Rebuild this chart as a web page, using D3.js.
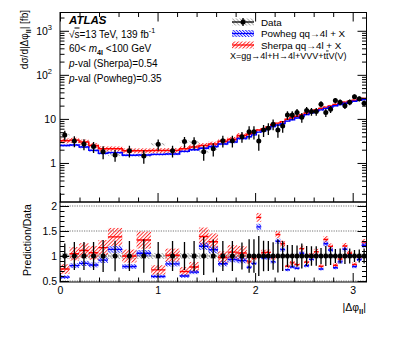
<!DOCTYPE html>
<html><head><meta charset="utf-8">
<script src="https://cdn.jsdelivr.net/npm/d3@7"></script>
<style>body{margin:0;background:#fff}svg{display:block}text{font-family:"Liberation Sans",Arial,sans-serif;fill:#000}</style>
</head><body><svg id="c" width="399" height="337"></svg>
<script>
// ---------------- data ----------------
const phiBinEdges = [0, 0.098, 0.196, 0.295, 0.393, 0.491, 0.638, 0.785, 0.933, 1.080, 1.227, 1.325, 1.424, 1.522, 1.620, 1.718, 1.816, 1.914,
  1.963, 2.013, 2.062, 2.111, 2.160, 2.209, 2.258, 2.307, 2.356, 2.405, 2.454, 2.503, 2.553, 2.602, 2.651, 2.700, 2.749, 2.798, 2.847, 2.896, 2.945, 2.994, 3.043, 3.092, 3.142];
const dataXsec = [4.33, 3.16, 2.7, 2.35, 1.8, 1.52, 1.9, 1.44, 2.66, 1.9,
  3.05, 2.95, 1.8, 2.1, 3.2, 3.2, 3.96, 5.1, 5.1, 3.16,
  5.6, 6.15, 7.6, 5.6, 6.9, 12.3, 12.3, 13.9, 10.9, 15.5,
  14.7, 14.7, 21.6, 13.9, 16.6, 26, 24, 20, 24, 32, 28.5, 22.7];
const dataErr = [1.08, 0.88, 0.76, 0.66, 0.58, 0.46, 0.57, 0.48, 0.74, 0.57,
  0.85, 0.89, 0.68, 0.69, 0.96, 0.96, 1.07, 1.7, 1.7, 1.26,
  1.7, 1.85, 2.1, 1.85, 2.07, 2.7, 2.7, 2.9, 2.7, 3.1,
  2.9, 2.9, 3.5, 2.8, 3.0, 3.6, 3.6, 3.2, 3.6, 3.8, 3.7, 3.4];
const dataSysRel = [0.06,0.06,0.06,0.06,0.06,0.06,0.06,0.06,0.06,0.06,0.06,0.06,0.06,0.06,0.06,0.06,0.06,
  0.05,0.05,0.05,0.05,0.05,0.05,0.05,0.05,0.05,0.05,0.05,0.05,0.05,0.05,0.05,0.05,0.05,0.05,0.05,0.05,0.05,0.05,0.05,0.05,0.05];
const sherpaXsec = [3.2, 3.3, 3.0, 2.5, 2.1, 2.1, 1.9, 1.9, 1.92, 1.93,
  2.1, 2.3, 2.5, 2.7, 3.1, 3.45, 4.2, 4.5, 4.9, 5.6,
  6.0, 6.6, 7.4, 8.0, 8.6, 9.8, 10.6, 11.5, 12.5, 13.6,
  14.8, 16.0, 17.2, 18.5, 19.8, 21.2, 22.5, 24.0, 25.3, 26.6, 28.0, 29.0];
const sherpaRelUnc = [0.13,0.13,0.13,0.13,0.13,0.13,0.13,0.13,0.13,0.13,0.13,0.13,0.13,0.13,0.13,0.13,0.13,
  0.05,0.05,0.05,0.05,0.05,0.05,0.05,0.05,0.05,0.05,0.05,0.05,0.05,0.05,0.05,0.05,0.05,0.05,0.05,0.05,0.05,0.05,0.05,0.05,0.05];
const powhegXsec = [2.5, 2.55, 2.3, 1.93, 1.65, 1.72, 1.5, 1.52, 1.57, 1.6,
  1.83, 2.0, 2.15, 2.36, 2.7, 2.97, 3.6, 3.95, 4.35, 5.0,
  5.4, 5.95, 6.7, 7.25, 7.8, 8.9, 9.6, 10.5, 11.5, 12.5,
  13.7, 14.8, 16.0, 17.3, 18.6, 19.9, 21.2, 22.7, 24.0, 25.2, 26.6, 27.6];
const powhegRelUnc = [0.06,0.06,0.06,0.06,0.06,0.06,0.06,0.06,0.06,0.06,0.06,0.06,0.06,0.06,0.06,0.06,0.06,
  0.04,0.04,0.04,0.04,0.04,0.04,0.04,0.04,0.04,0.04,0.04,0.04,0.04,0.04,0.04,0.04,0.04,0.04,0.04,0.04,0.04,0.04,0.04,0.04,0.04];
const xTickValues = [0, 1, 2, 3];
const xTickLabels = ["0", "1", "2", "3"];
const mainTickValues = [1, 10, 100, 1000];
const mainTickLabels = [["1",""], ["10",""], ["10","2"], ["10","3"]];
const ratioTickValues = [0.5, 1, 1.5, 2];
const ratioTickLabels = ["0.5", "1", "1.5", "2"];

// ---------------- layout ----------------
const X0 = 60, X1 = 366.5, MT = 12.5, MB = 202, RB = 282;
const svg = d3.select("#c");
const x = d3.scaleLinear().domain([0, Math.PI]).range([X0, X1]);
const y = d3.scaleLog().domain([0.13, 2600]).range([MB, MT]);
const yr = d3.scaleLinear().domain([0.48, 2.08]).range([RB, MB]);
const FS = 10.5;

const defs = svg.append("defs");
function hatch(id, color, angle, sp, w) {
  const p = defs.append("pattern").attr("id", id).attr("patternUnits", "userSpaceOnUse")
    .attr("width", sp).attr("height", sp).attr("patternTransform", `rotate(${angle})`);
  p.append("line").attr("x1", 0.5).attr("y1", 0).attr("x2", 0.5).attr("y2", sp)
    .attr("stroke", color).attr("stroke-width", w);
}
hatch("hr", "#ff2020", 45, 2.6, 0.9);
hatch("hb", "#1a1aff", -45, 2.2, 0.9);
hatch("hg", "#9a9a9a", -45, 2.6, 0.8);
defs.append("clipPath").attr("id", "cm").append("rect").attr("x", X0).attr("y", MT).attr("width", X1 - X0).attr("height", MB - MT);
defs.append("clipPath").attr("id", "cr").append("rect").attr("x", X0).attr("y", MB).attr("width", X1 - X0).attr("height", RB - MB);

const bins = dataXsec.map((d, i) => ({
  i, lo: phiBinEdges[i], hi: phiBinEdges[i + 1], c: (phiBinEdges[i] + phiBinEdges[i + 1]) / 2,
  d, e: dataErr[i], sys: dataSysRel[i], s: sherpaXsec[i], su: sherpaRelUnc[i], p: powhegXsec[i], pu: powhegRelUnc[i]
}));

// ---------------- main panel ----------------
const gm = svg.append("g").attr("clip-path", "url(#cm)");
gm.selectAll("rect.gs").data(bins).join("rect").attr("class", "gs")
  .attr("x", b => x(b.lo)).attr("width", b => x(b.hi) - x(b.lo))
  .attr("y", b => y(b.d * (1 + b.sys))).attr("height", b => y(b.d * (1 - b.sys)) - y(b.d * (1 + b.sys)))
  .attr("fill", "url(#hg)");
function bands(g, key, ukey, pat) {
  g.selectAll("rect." + key).data(bins).join("rect").attr("class", key)
    .attr("x", b => x(b.lo)).attr("width", b => x(b.hi) - x(b.lo))
    .attr("y", b => y(b[key] * (1 + b[ukey]))).attr("height", b => y(b[key] * (1 - b[ukey])) - y(b[key] * (1 + b[ukey])))
    .attr("fill", pat);
}
bands(gm, "s", "su", "url(#hr)");
bands(gm, "p", "pu", "url(#hb)");
function stepPts(key) {
  const pts = [];
  bins.forEach(b => { pts.push([b.lo, b[key]]); pts.push([b.hi, b[key]]); });
  return pts;
}
const line = d3.line().x(p => x(p[0])).y(p => y(p[1]));
gm.append("path").attr("d", line(stepPts("s"))).attr("fill", "none").attr("stroke", "#ff0000").attr("stroke-width", 1.4);
gm.append("path").attr("d", line(stepPts("p"))).attr("fill", "none").attr("stroke", "#0000ff").attr("stroke-width", 1.4);
gm.selectAll("line.de").data(bins).join("line").attr("class", "de")
  .attr("x1", b => x(b.c)).attr("x2", b => x(b.c))
  .attr("y1", b => y(b.d + b.e)).attr("y2", b => y(Math.max(b.d - b.e, 0.14)))
  .attr("stroke", "#000").attr("stroke-width", 1.3);
gm.selectAll("circle.dm").data(bins).join("circle").attr("class", "dm")
  .attr("cx", b => x(b.c)).attr("cy", b => y(b.d)).attr("r", 2.5).attr("fill", "#000");

// ---------------- ratio panel ----------------
const gr = svg.append("g").attr("clip-path", "url(#cr)");
gr.selectAll("rect.gs").data(bins).join("rect").attr("class", "gs")
  .attr("x", b => x(b.lo)).attr("width", b => x(b.hi) - x(b.lo))
  .attr("y", b => yr(1 + b.sys)).attr("height", b => yr(1 - b.sys) - yr(1 + b.sys)).attr("fill", "url(#hg)");
gr.selectAll("line.grid").data(ratioTickValues).join("line").attr("class", "grid")
  .attr("x1", X0).attr("x2", X1).attr("y1", v => yr(v)).attr("y2", v => yr(v))
  .attr("stroke", v => v === 1 ? "#555" : "#777").attr("stroke-width", 1).attr("stroke-dasharray", "1.2,1.2");
function rbands(key, ukey, pat, col) {
  gr.selectAll("rect.r" + key).data(bins).join("rect").attr("class", "r" + key)
    .attr("x", b => x(b.lo)).attr("width", b => x(b.hi) - x(b.lo))
    .attr("y", b => yr(b[key] * (1 + b[ukey]) / b.d)).attr("height", b => yr(b[key] * (1 - b[ukey]) / b.d) - yr(b[key] * (1 + b[ukey]) / b.d))
    .attr("fill", pat);
  gr.selectAll("line.r" + key).data(bins).join("line").attr("class", "r" + key)
    .attr("x1", b => x(b.lo)).attr("x2", b => x(b.hi))
    .attr("y1", b => yr(b[key] / b.d)).attr("y2", b => yr(b[key] / b.d))
    .attr("stroke", col).attr("stroke-width", 1.4);
}
rbands("s", "su", "url(#hr)", "#ff0000");
rbands("p", "pu", "url(#hb)", "#0000ff");
gr.selectAll("line.de").data(bins).join("line").attr("class", "de")
  .attr("x1", b => x(b.c)).attr("x2", b => x(b.c))
  .attr("y1", b => yr(1 + b.e / b.d)).attr("y2", b => yr(1 - b.e / b.d))
  .attr("stroke", "#000").attr("stroke-width", 1.3);
gr.selectAll("circle.dm").data(bins).join("circle").attr("class", "dm")
  .attr("cx", b => x(b.c)).attr("cy", yr(1)).attr("r", 2.5).attr("fill", "#000");

// ---------------- axes ----------------
function styleAxis(g) {
  g.select(".domain").remove();
  g.selectAll(".tick line").attr("stroke", "#000").attr("stroke-width", 1);
  g.selectAll("text").attr("font-size", FS).attr("font-family", '"Liberation Sans",Arial,sans-serif').attr("fill", "#000");
}
const xMinor = d3.range(0, 3.15, 0.2).filter(v => Math.abs(v - Math.round(v)) > 1e-6);
const mainMinor = y.ticks().filter(v => Math.abs(Math.log10(v) - Math.round(Math.log10(v))) > 1e-6);
const ratioMinor = d3.range(5, 21).map(v => v / 10).filter(v => Math.abs(v * 2 - Math.round(v * 2)) > 1e-6);

svg.append("g").attr("transform", `translate(${X0},0)`)
  .call(d3.axisLeft(y).tickValues(mainTickValues).tickSizeInner(-9).tickSizeOuter(0).tickPadding(4).tickFormat(() => ""))
  .call(styleAxis)
  .call(g => g.selectAll(".tick text").each(function (v) {
    const t = d3.select(this), lab = mainTickLabels[mainTickValues.indexOf(v)];
    t.text(null);
    if (lab[1]) {
      t.attr("dx", "-4");
      t.append("tspan").text(lab[0]);
      t.append("tspan").text(lab[1]).attr("font-size", 7.5).attr("dy", -5);
    } else t.text(lab[0]);
  }));
svg.append("g").attr("transform", `translate(${X0},0)`)
  .call(d3.axisLeft(y).tickValues(mainMinor).tickSizeInner(-4.5).tickSizeOuter(0).tickFormat(""))
  .call(styleAxis);
svg.append("g").attr("transform", `translate(${X1},0)`)
  .call(d3.axisRight(y).tickValues(mainTickValues).tickSizeInner(-9).tickSizeOuter(0).tickFormat("")).call(styleAxis);
svg.append("g").attr("transform", `translate(${X1},0)`)
  .call(d3.axisRight(y).tickValues(mainMinor).tickSizeInner(-4.5).tickSizeOuter(0).tickFormat("")).call(styleAxis);
[[MT, d3.axisTop], [MB, d3.axisBottom]].forEach(([yy, ax]) => {
  svg.append("g").attr("transform", `translate(0,${yy})`)
    .call(ax(x).tickValues(xTickValues).tickSizeInner(-9).tickSizeOuter(0).tickFormat("")).call(styleAxis);
  svg.append("g").attr("transform", `translate(0,${yy})`)
    .call(ax(x).tickValues(xMinor).tickSizeInner(-4.5).tickSizeOuter(0).tickFormat("")).call(styleAxis);
});
svg.append("g").attr("transform", `translate(${X0},0)`)
  .call(d3.axisLeft(yr).tickValues(ratioTickValues).tickSizeInner(-9).tickSizeOuter(0).tickPadding(3)
    .tickFormat(v => ratioTickLabels[ratioTickValues.indexOf(v)])).call(styleAxis);
svg.append("g").attr("transform", `translate(${X0},0)`)
  .call(d3.axisLeft(yr).tickValues(ratioMinor).tickSizeInner(-4.5).tickSizeOuter(0).tickFormat("")).call(styleAxis);
svg.append("g").attr("transform", `translate(${X1},0)`)
  .call(d3.axisRight(yr).tickValues(ratioTickValues).tickSizeInner(-9).tickSizeOuter(0).tickFormat("")).call(styleAxis);
svg.append("g").attr("transform", `translate(${X1},0)`)
  .call(d3.axisRight(yr).tickValues(ratioMinor).tickSizeInner(-4.5).tickSizeOuter(0).tickFormat("")).call(styleAxis);
svg.append("g").attr("transform", `translate(0,${RB})`)
  .call(d3.axisBottom(x).tickValues(xTickValues).tickSizeInner(-9).tickSizeOuter(0).tickPadding(4.5)
    .tickFormat(v => xTickLabels[xTickValues.indexOf(v)])).call(styleAxis);
svg.append("g").attr("transform", `translate(0,${RB})`)
  .call(d3.axisBottom(x).tickValues(xMinor).tickSizeInner(-4.5).tickSizeOuter(0).tickFormat("")).call(styleAxis);

svg.append("rect").attr("x", X0).attr("y", MT).attr("width", X1 - X0).attr("height", MB - MT).attr("fill", "none").attr("stroke", "#000").attr("stroke-width", 1);
svg.append("rect").attr("x", X0).attr("y", MB).attr("width", X1 - X0).attr("height", RB - MB).attr("fill", "none").attr("stroke", "#000").attr("stroke-width", 1);

// ---------------- text ----------------
function rich(x0, y0, parts, o = {}) {
  const fs = o.size || FS;
  const t = svg.append("text").attr("x", x0).attr("y", y0).attr("font-size", fs);
  if (o.anchor) t.attr("text-anchor", o.anchor);
  if (o.transform) t.attr("transform", o.transform);
  let cur = 0;
  parts.forEach(p => {
    const [s, st] = typeof p === "string" ? [p, ""] : p;
    const ts = t.append("tspan").text(s);
    let target = 0;
    if (st.includes("sub")) { target = fs * 0.3; ts.attr("font-size", fs * 0.72); }
    if (st.includes("sup")) { target = -fs * 0.42; ts.attr("font-size", fs * 0.72); }
    if (st.includes("i")) ts.attr("font-style", "italic");
    if (st.includes("b")) ts.attr("font-weight", "bold");
    if (st.includes("ol")) ts.attr("text-decoration", "overline");
    if (target !== cur) { ts.attr("dy", target - cur); cur = target; }
  });
  return t;
}
rich(69, 24, [["ATLAS", "b i"]], { size: 11.5 });
rich(69, 37.5, ["√", ["s", "ol"], "=13 TeV, 139 fb", ["-1", "sup"]], { size: 10 });
rich(69, 51.5, ["60< ", ["m", "i"], ["4l", "sub"], " <100 GeV"], { size: 10 });
rich(69, 66.5, [["p", "i"], "-val (Sherpa)=0.54"], { size: 10 });
rich(69, 81.5, [["p", "i"], "-val (Powheg)=0.35"], { size: 10 });

rich(28, 10, ["dσ/d|Δφ", ["ll", "sub"], "| [fb]"], { size: 10, anchor: "end", transform: "rotate(-90,28,10)" });
rich(31, 240, ["Prediction/Data"], { size: 10.5, anchor: "middle", transform: "rotate(-90,31,240)" });
rich(366, 311, ["|Δφ", ["ll", "sub"], "|"], { size: 10.5, anchor: "end" });

const LX = 232, LW = 22;
const legRows = [
  { y: 22, label: ["Data"] },
  { y: 33.5, label: ["Powheg qq→4l + X"] },
  { y: 45, label: ["Sherpa qq→4l + X"] }
];
const lg = svg.append("g");
lg.append("rect").attr("x", LX).attr("y", 18.5).attr("width", LW).attr("height", 7).attr("fill", "url(#hg)");
lg.append("line").attr("x1", LX).attr("x2", LX + LW).attr("y1", 22).attr("y2", 22).attr("stroke", "#000").attr("stroke-width", 1.3);
lg.append("line").attr("x1", LX + LW / 2).attr("x2", LX + LW / 2).attr("y1", 18).attr("y2", 26).attr("stroke", "#000").attr("stroke-width", 1.3);
lg.append("circle").attr("cx", LX + LW / 2).attr("cy", 22).attr("r", 2.5).attr("fill", "#000");
lg.append("rect").attr("x", LX).attr("y", 30).attr("width", LW).attr("height", 7).attr("fill", "url(#hb)");
lg.append("line").attr("x1", LX).attr("x2", LX + LW).attr("y1", 33.5).attr("y2", 33.5).attr("stroke", "#0000ff").attr("stroke-width", 1.2);
lg.append("rect").attr("x", LX).attr("y", 41.5).attr("width", LW).attr("height", 7).attr("fill", "url(#hr)");
lg.append("line").attr("x1", LX).attr("x2", LX + LW).attr("y1", 45).attr("y2", 45).attr("stroke", "#ff0000").attr("stroke-width", 1.2);
legRows.forEach(r => rich(261, r.y + 3.5, r.label, { size: 9.8 }));
rich(230, 58.5, ["X=gg→4l+H→4l+VVV+t", ["t", "ol"], "V(V)"], { size: 9 });
</script></body></html>
